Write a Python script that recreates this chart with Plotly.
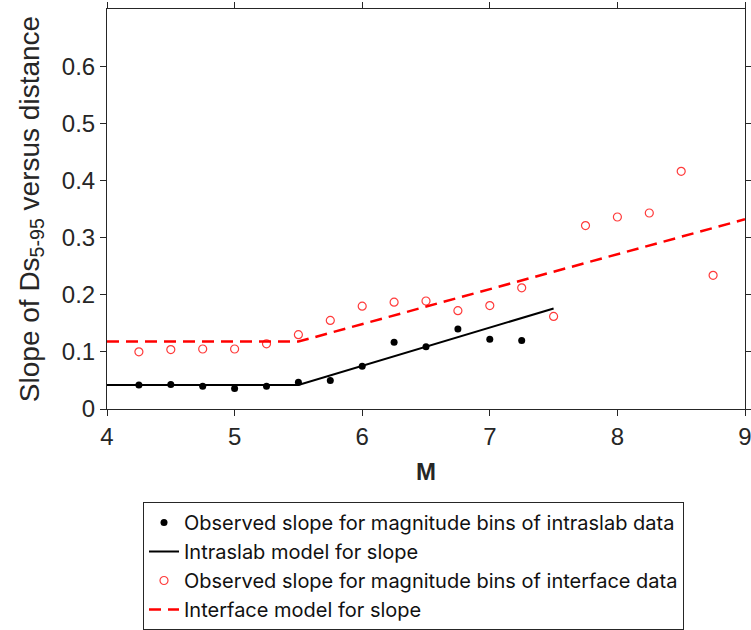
import plotly.graph_objects as go

# Observed slopes, intraslab magnitude bins
m_intra = [4.25, 4.5, 4.75, 5.0, 5.25, 5.5, 5.75, 6.0, 6.25, 6.5, 6.75, 7.0, 7.25]
s_intra = [0.042, 0.043, 0.040, 0.036, 0.040, 0.047, 0.050, 0.075, 0.117, 0.109, 0.140, 0.122, 0.120]

# Intraslab model (piecewise linear)
m_intra_model = [4.0, 5.5, 7.5]
s_intra_model = [0.042, 0.042, 0.176]

# Observed slopes, interface magnitude bins
m_inter = [4.25, 4.5, 4.75, 5.0, 5.25, 5.5, 5.75, 6.0, 6.25, 6.5, 6.75, 7.0, 7.25, 7.5, 7.75, 8.0, 8.25, 8.5, 8.75]
s_inter = [0.100, 0.104, 0.105, 0.105, 0.114, 0.130, 0.155, 0.180, 0.187, 0.189, 0.172, 0.181, 0.212, 0.162, 0.321, 0.336, 0.343, 0.416, 0.234]

# Interface model (piecewise linear)
m_inter_model = [4.0, 5.5, 9.0]
s_inter_model = [0.118, 0.118, 0.332]

x_ticks = [4, 5, 6, 7, 8, 9]
y_ticks = [0, 0.1, 0.2, 0.3, 0.4, 0.5, 0.6]
y_tick_text = ["0", "0.1", "0.2", "0.3", "0.4", "0.5", "0.6"]

FONT = "Liberation Sans, Arial, sans-serif"
LEG_FONT = "Inter, Liberation Sans, sans-serif"
AX = "#262626"

fig = go.Figure()
fig.add_trace(go.Scatter(
    x=m_intra, y=s_intra, mode="markers",
    marker=dict(color="black", size=7, symbol="circle"),
    name="Observed slope for magnitude bins of intraslab data"))
fig.add_trace(go.Scatter(
    x=m_intra_model, y=s_intra_model, mode="lines",
    line=dict(color="black", width=2),
    name="Intraslab model for slope"))
fig.add_trace(go.Scatter(
    x=m_inter, y=s_inter, mode="markers",
    marker=dict(color="#ff3b3b", size=8, symbol="circle-open",
                line=dict(width=1.2)),
    name="Observed slope for magnitude bins of interface data"))
fig.add_trace(go.Scatter(
    x=m_inter_model, y=s_inter_model, mode="lines",
    line=dict(color="#ff0000", width=2.5, dash="12px,7px"),
    name="Interface model for slope"))

fig.update_layout(
    width=751, height=630,
    margin=dict(l=107, r=6, t=9, b=221, autoexpand=False),
    paper_bgcolor="white", plot_bgcolor="white",
    font=dict(family=FONT, color=AX, size=24),
    showlegend=True,
    legend=dict(
        x=(143 - 107) / 638, y=(409 - 502) / 400,
        xanchor="left", yanchor="top",
        bordercolor=AX, borderwidth=1, bgcolor="white",
        font=dict(family=LEG_FONT, size=20, color="#111111"),
        itemwidth=30, tracegroupgap=0,
    ),
    xaxis=dict(
        range=[4, 9], tickvals=x_ticks, ticktext=[str(v) for v in x_ticks],
        showgrid=False, zeroline=False, automargin=False,
        ticklabeloverflow="allow",
        showline=True, linecolor=AX, linewidth=1, mirror="ticks",
        ticks="outside", ticklen=6, tickcolor=AX, tickwidth=1,
        tickfont=dict(size=24, color=AX),
        title=dict(text="<b>M</b>", font=dict(size=24, color=AX), standoff=14),
    ),
    yaxis=dict(
        range=[0, 0.7], tickvals=y_ticks, ticktext=y_tick_text,
        showgrid=False, zeroline=False, automargin=False,
        ticklabeloverflow="allow",
        showline=True, linecolor=AX, linewidth=1, mirror="ticks",
        ticks="outside", ticklen=6, tickcolor=AX, tickwidth=1,
        tickfont=dict(size=24, color=AX),
        title=dict(text="Slope of Ds<sub>5-95</sub> versus distance",
                   font=dict(size=28, color=AX), standoff=14),
    ),
)

fig.write_html("out.html")
